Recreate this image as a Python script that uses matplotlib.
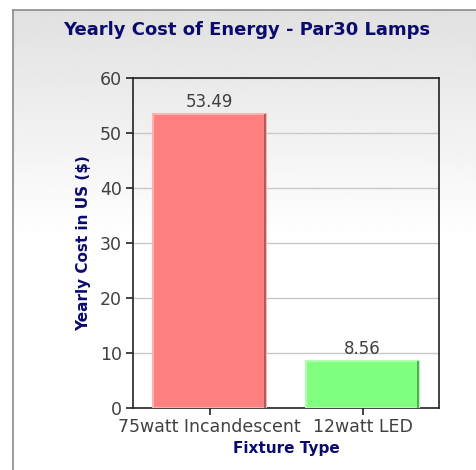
import matplotlib.pyplot as plt
import numpy as np

categories = ["75watt Incandescent", "12watt LED"]
costs = [53.49, 8.56]
value_labels = ["53.49", "8.56"]
y_ticks = [0, 10, 20, 30, 40, 50, 60]

fill_colors = ["#ff8080", "#80ff80"]
edge_colors = ["#ffb0b0", "#b0ffb0"]
dark_edges = ["#a05050", "#4a9a4a"]

NAVY = "#0b0b6e"
TICK = "#404040"

fig = plt.figure(figsize=(4.76, 4.70), dpi=100)
fig.patch.set_facecolor("white")

# gradient background inside the outer frame
bg = fig.add_axes([13 / 476, 0, 1 - 13 / 476, 1 - 10 / 470], zorder=0)
grad = np.ones((460, 1))
fade = np.linspace(0.88, 1.0, 230)
grad[:230, 0] = fade
bg.imshow(grad, cmap="gray", vmin=0, vmax=1, aspect="auto",
          extent=[0, 1, 0, 1], interpolation="bilinear")
bg.set_xticks([])
bg.set_yticks([])
for side in ["right", "bottom"]:
    bg.spines[side].set_visible(False)
for side in ["left", "top"]:
    bg.spines[side].set_color("#8a8a8a")
    bg.spines[side].set_linewidth(1.2)

ax = fig.add_axes([133 / 476, 1 - 408 / 470, 306 / 476, 330 / 470], zorder=1)
ax.patch.set_alpha(0)

x = np.arange(len(categories))
width = 0.74
bars = ax.bar(x, costs, width=width, color=fill_colors, edgecolor=edge_colors,
              linewidth=1.5, zorder=3)
# darker shading on the right side of each bar
ax.vlines(x + width / 2 - 0.008, 0, costs, colors=dark_edges, linewidth=1.2, zorder=4)

for xi, v, lab in zip(x, costs, value_labels):
    ax.text(xi, v + 0.5, lab, ha="center", va="bottom", fontsize=12,
            color=TICK, zorder=5)

ax.set_xlim(-0.5, 1.5)
ax.set_ylim(0, 60)
ax.set_yticks(y_ticks)
ax.set_xticks(x)
ax.set_xticklabels(categories)
ax.tick_params(axis="both", direction="out", length=5, width=1.2,
               colors="#222222", labelcolor=TICK, labelsize=12.5)
ax.tick_params(axis="x", pad=2)
ax.tick_params(axis="y", pad=3)
ax.yaxis.grid(True, color="#c8c8c8", linewidth=1.0, zorder=1)
ax.set_axisbelow(True)
for s in ax.spines.values():
    s.set_color("#222222")
    s.set_linewidth(1.2)

ax.set_ylabel("Yearly Cost in US ($)", fontsize=11, fontweight="bold",
              color=NAVY, labelpad=6)
ax.set_xlabel("Fixture Type", fontsize=11, fontweight="bold", color=NAVY,
              labelpad=4)

fig.text(247 / 476, 1 - 30 / 470, "Yearly Cost of Energy - Par30 Lamps",
         ha="center", va="center", fontsize=13, fontweight="bold", color=NAVY)

fig.savefig("out.png", dpi=100)
